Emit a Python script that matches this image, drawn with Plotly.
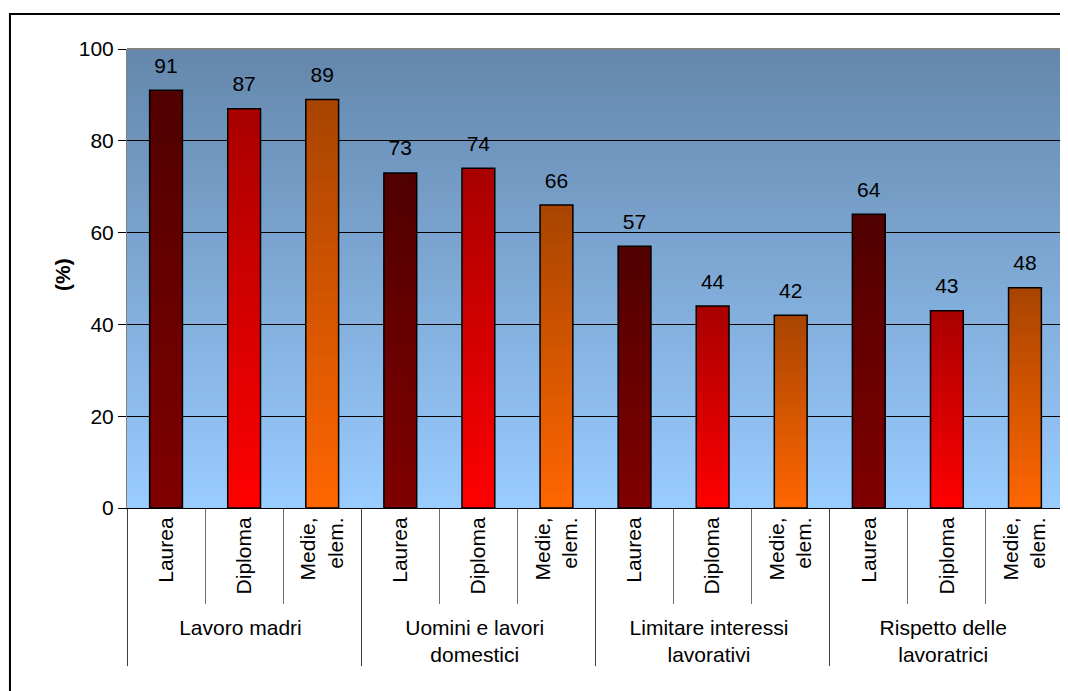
import plotly.graph_objects as go

groups = ["Lavoro madri", "Uomini e lavori<br>domestici",
          "Limitare interessi<br>lavorativi", "Rispetto delle<br>lavoratrici"]
levels = ["Laurea", "Diploma", "Medie,<br>elem."]
laurea = [91, 73, 57, 64]
diploma = [87, 74, 44, 43]
medie = [89, 66, 42, 48]
y_ticks = [0, 20, 40, 60, 80, 100]

# gradient colours (bottom, top) for each level
level_bottom = [(128, 0, 0), (255, 0, 0), (255, 102, 0)]
level_top = [(80, 0, 0), (168, 0, 0), (168, 68, 0)]
bg_bottom = (153, 204, 255)
bg_top = (100, 135, 172)


def blend(c0, c1, t):
    return "rgb(%d,%d,%d)" % tuple(round(a + (b - a) * t) for a, b in zip(c0, c1))


series = [laurea, diploma, medie]
x_outer, x_inner, values, lev_idx = [], [], [], []
for gi, g in enumerate(groups):
    for li, l in enumerate(levels):
        x_outer.append(g)
        x_inner.append(l)
        values.append(series[li][gi])
        lev_idx.append(li)
x = [x_outer, x_inner]

fig = go.Figure()

# bars drawn as a stack of slightly overlapping slices -> vertical gradient
N = 40
for k in range(N):
    t = (k + 0.5) / N
    fig.add_trace(go.Bar(
        x=x, y=[v * min(1.6, N - k) / N for v in values], base=[v * k / N for v in values],
        marker=dict(color=[blend(level_bottom[i], level_top[i], t) for i in lev_idx],
                    line=dict(width=0)),
        hoverinfo="skip", showlegend=False))

# outline
fig.add_trace(go.Bar(
    x=x, y=values,
    marker=dict(color="rgba(0,0,0,0)", line=dict(color="black", width=1.5)),
    showlegend=False))

# value labels
fig.add_trace(go.Scatter(
    x=x, y=values, mode="markers+text", text=[str(v) for v in values],
    textposition="top center", marker=dict(size=18, opacity=0),
    textfont=dict(size=21, color="black"), cliponaxis=False,
    hoverinfo="skip", showlegend=False))

# plot-area background gradient
M = 90
for i in range(M):
    fig.add_shape(type="rect", xref="x domain", yref="y domain",
                  x0=0, x1=1, y0=i / M, y1=min(1, (i + 1.6) / M),
                  fillcolor=blend(bg_bottom, bg_top, (i + 0.5) / M),
                  line=dict(width=0), layer="below")

# chart border
fig.add_shape(type="rect", xref="paper", yref="paper",
              x0=-0.1249, x1=1.02, y0=-0.45, y1=1.0763,
              line=dict(color="black", width=2))
# plot area top edge
fig.add_shape(type="line", xref="paper", yref="paper",
              x0=0, x1=1, y0=1, y1=1, line=dict(color="#808080", width=2))

# y title
fig.add_annotation(text="<b>(%)</b>", xref="paper", yref="paper", x=0, y=0.5,
                   xshift=-78, yshift=4, textangle=-90, showarrow=False,
                   font=dict(size=21, color="black"))

# page body has an 8px margin, so the figure is drawn 8px smaller
fig.update_layout(
    width=1060, height=683,
    margin=dict(l=119, r=4, t=41, b=183),
    paper_bgcolor="white", plot_bgcolor="#99CCFF",
    barmode="overlay", bargap=0.58,
    font=dict(family="Liberation Sans, Arial, sans-serif", size=21, color="black"),
)
fig.update_xaxes(
    range=[-0.5, 11.5],
    tickangle=-90, tickson="boundaries", ticks="outside", ticklen=95,
    tickcolor="#707070", showdividers=True, dividercolor="#404040", dividerwidth=1,
    showline=True, linecolor="black", linewidth=1, showgrid=False,
    tickfont=dict(size=21),
)
fig.update_yaxes(
    range=[0, 100], tickvals=y_ticks, ticks="outside", ticklen=8, tickcolor="black",
    showgrid=True, gridcolor="black", gridwidth=1, zeroline=False,
    showline=True, linecolor="#808080", linewidth=1, mirror=True,
    tickfont=dict(size=21),
)

fig.write_html("out.html")
